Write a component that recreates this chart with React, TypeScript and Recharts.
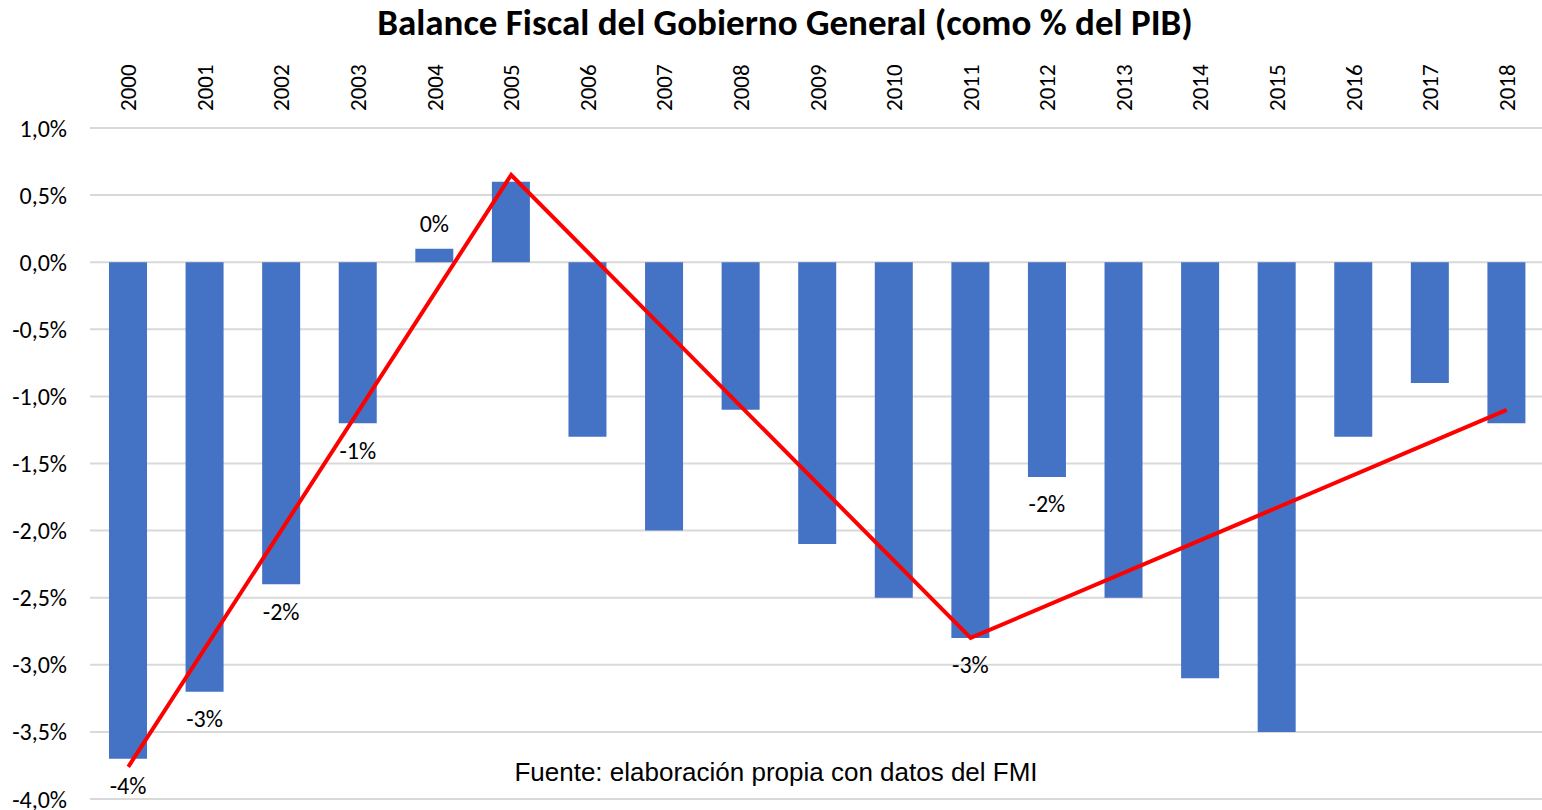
import React from 'react';
import { ComposedChart, Bar, Line, XAxis, YAxis, CartesianGrid, LabelList } from 'recharts';

const years = ['2000','2001','2002','2003','2004','2005','2006','2007','2008','2009','2010','2011','2012','2013','2014','2015','2016','2017','2018'];
const balance = [-3.7,-3.2,-2.4,-1.2,0.1,0.6,-1.3,-2.0,-1.1,-2.1,-2.5,-2.8,-1.6,-2.5,-3.1,-3.5,-1.3,-0.9,-1.2];
const trend: (number | null)[] = [-3.76,null,null,null,null,0.65,null,null,null,null,null,-2.8,null,null,null,null,null,null,-1.1];
const barLabels = ['-4%','-3%','-2%','-1%','0%','','','','','','','-3%','-2%','','','','','',''];
const yTicks = [-4,-3.5,-3,-2.5,-2,-1.5,-1,-0.5,0,0.5,1];

const title = 'Balance Fiscal del Gobierno General (como % del PIB)';
const source = 'Fuente: elaboración propia con datos del FMI';

const data = years.map((y, i) => ({ year: y, balance: balance[i], trend: trend[i], label: barLabels[i] }));

const FONT = 'Carlito, Lato, "Open Sans", sans-serif';

const TopTick = (props: any) => {
  const { x, y, payload } = props;
  return (
    <text x={x} y={y} transform={`rotate(-90 ${x} ${y})`} textAnchor="start" dominantBaseline="central"
      fontFamily={FONT} fontSize={23} fill="#000">{payload.value}</text>
  );
};

const BarLabel = (props: any) => {
  const { x, y, width, height, value } = props;
  if (!value) return null;
  const cx = x + width / 2;
  const isPos = !String(value).startsWith('-');
  const bottom = Math.max(y, y + height);
  const top = Math.min(y, y + height);
  const ty = isPos ? top - 25 : bottom + 27;
  return (
    <text x={cx} y={ty} textAnchor="middle" dominantBaseline="central" fontFamily={FONT} fontSize={24} fill="#000">{value}</text>
  );
};

export default function App() {
  return (
    <div style={{ position: 'absolute', left: 0, top: 0, width: 1542, height: 810, overflow: 'hidden', background: '#fff' }}>
      <ComposedChart width={1546} height={810} data={data} margin={{ top: 0, right: 1, bottom: 11, left: 0 }}>
        <CartesianGrid horizontal vertical={false} stroke="#d9d9d9" strokeWidth={2} />
        <XAxis dataKey="year" orientation="top" height={128} axisLine={false} tickLine={false}
          tickSize={0} tickMargin={17} interval={0} tick={<TopTick />} />
        <YAxis domain={[-4, 1]} ticks={yTicks} width={90} axisLine={false} tickLine={false}
          tickSize={0} tickMargin={23} interval={0}
          tickFormatter={(v: number) => v.toFixed(1).replace('.', ',') + '%'}
          tick={{ fontFamily: FONT, fontSize: 24, fill: '#000' }} />
        <Bar dataKey="balance" fill="#4472C4" barSize={38} isAnimationActive={false}>
          <LabelList dataKey="label" content={<BarLabel />} />
        </Bar>
        <Line dataKey="trend" stroke="#FF0000" strokeWidth={4} dot={false} connectNulls isAnimationActive={false} type="linear" />
      </ComposedChart>
      <div style={{ position: 'absolute', left: 0, top: 0, width: 1570, textAlign: 'center', fontFamily: FONT, fontWeight: 700, fontSize: 37, color: '#000' }}>{title}</div>
      <div style={{ position: 'absolute', left: 0, top: 757, width: 1552, textAlign: 'center', fontFamily: '"Liberation Sans Narrow", "Arial Narrow", "Liberation Sans", sans-serif', fontSize: 26, color: '#000' }}>{source}</div>
    </div>
  );
}
